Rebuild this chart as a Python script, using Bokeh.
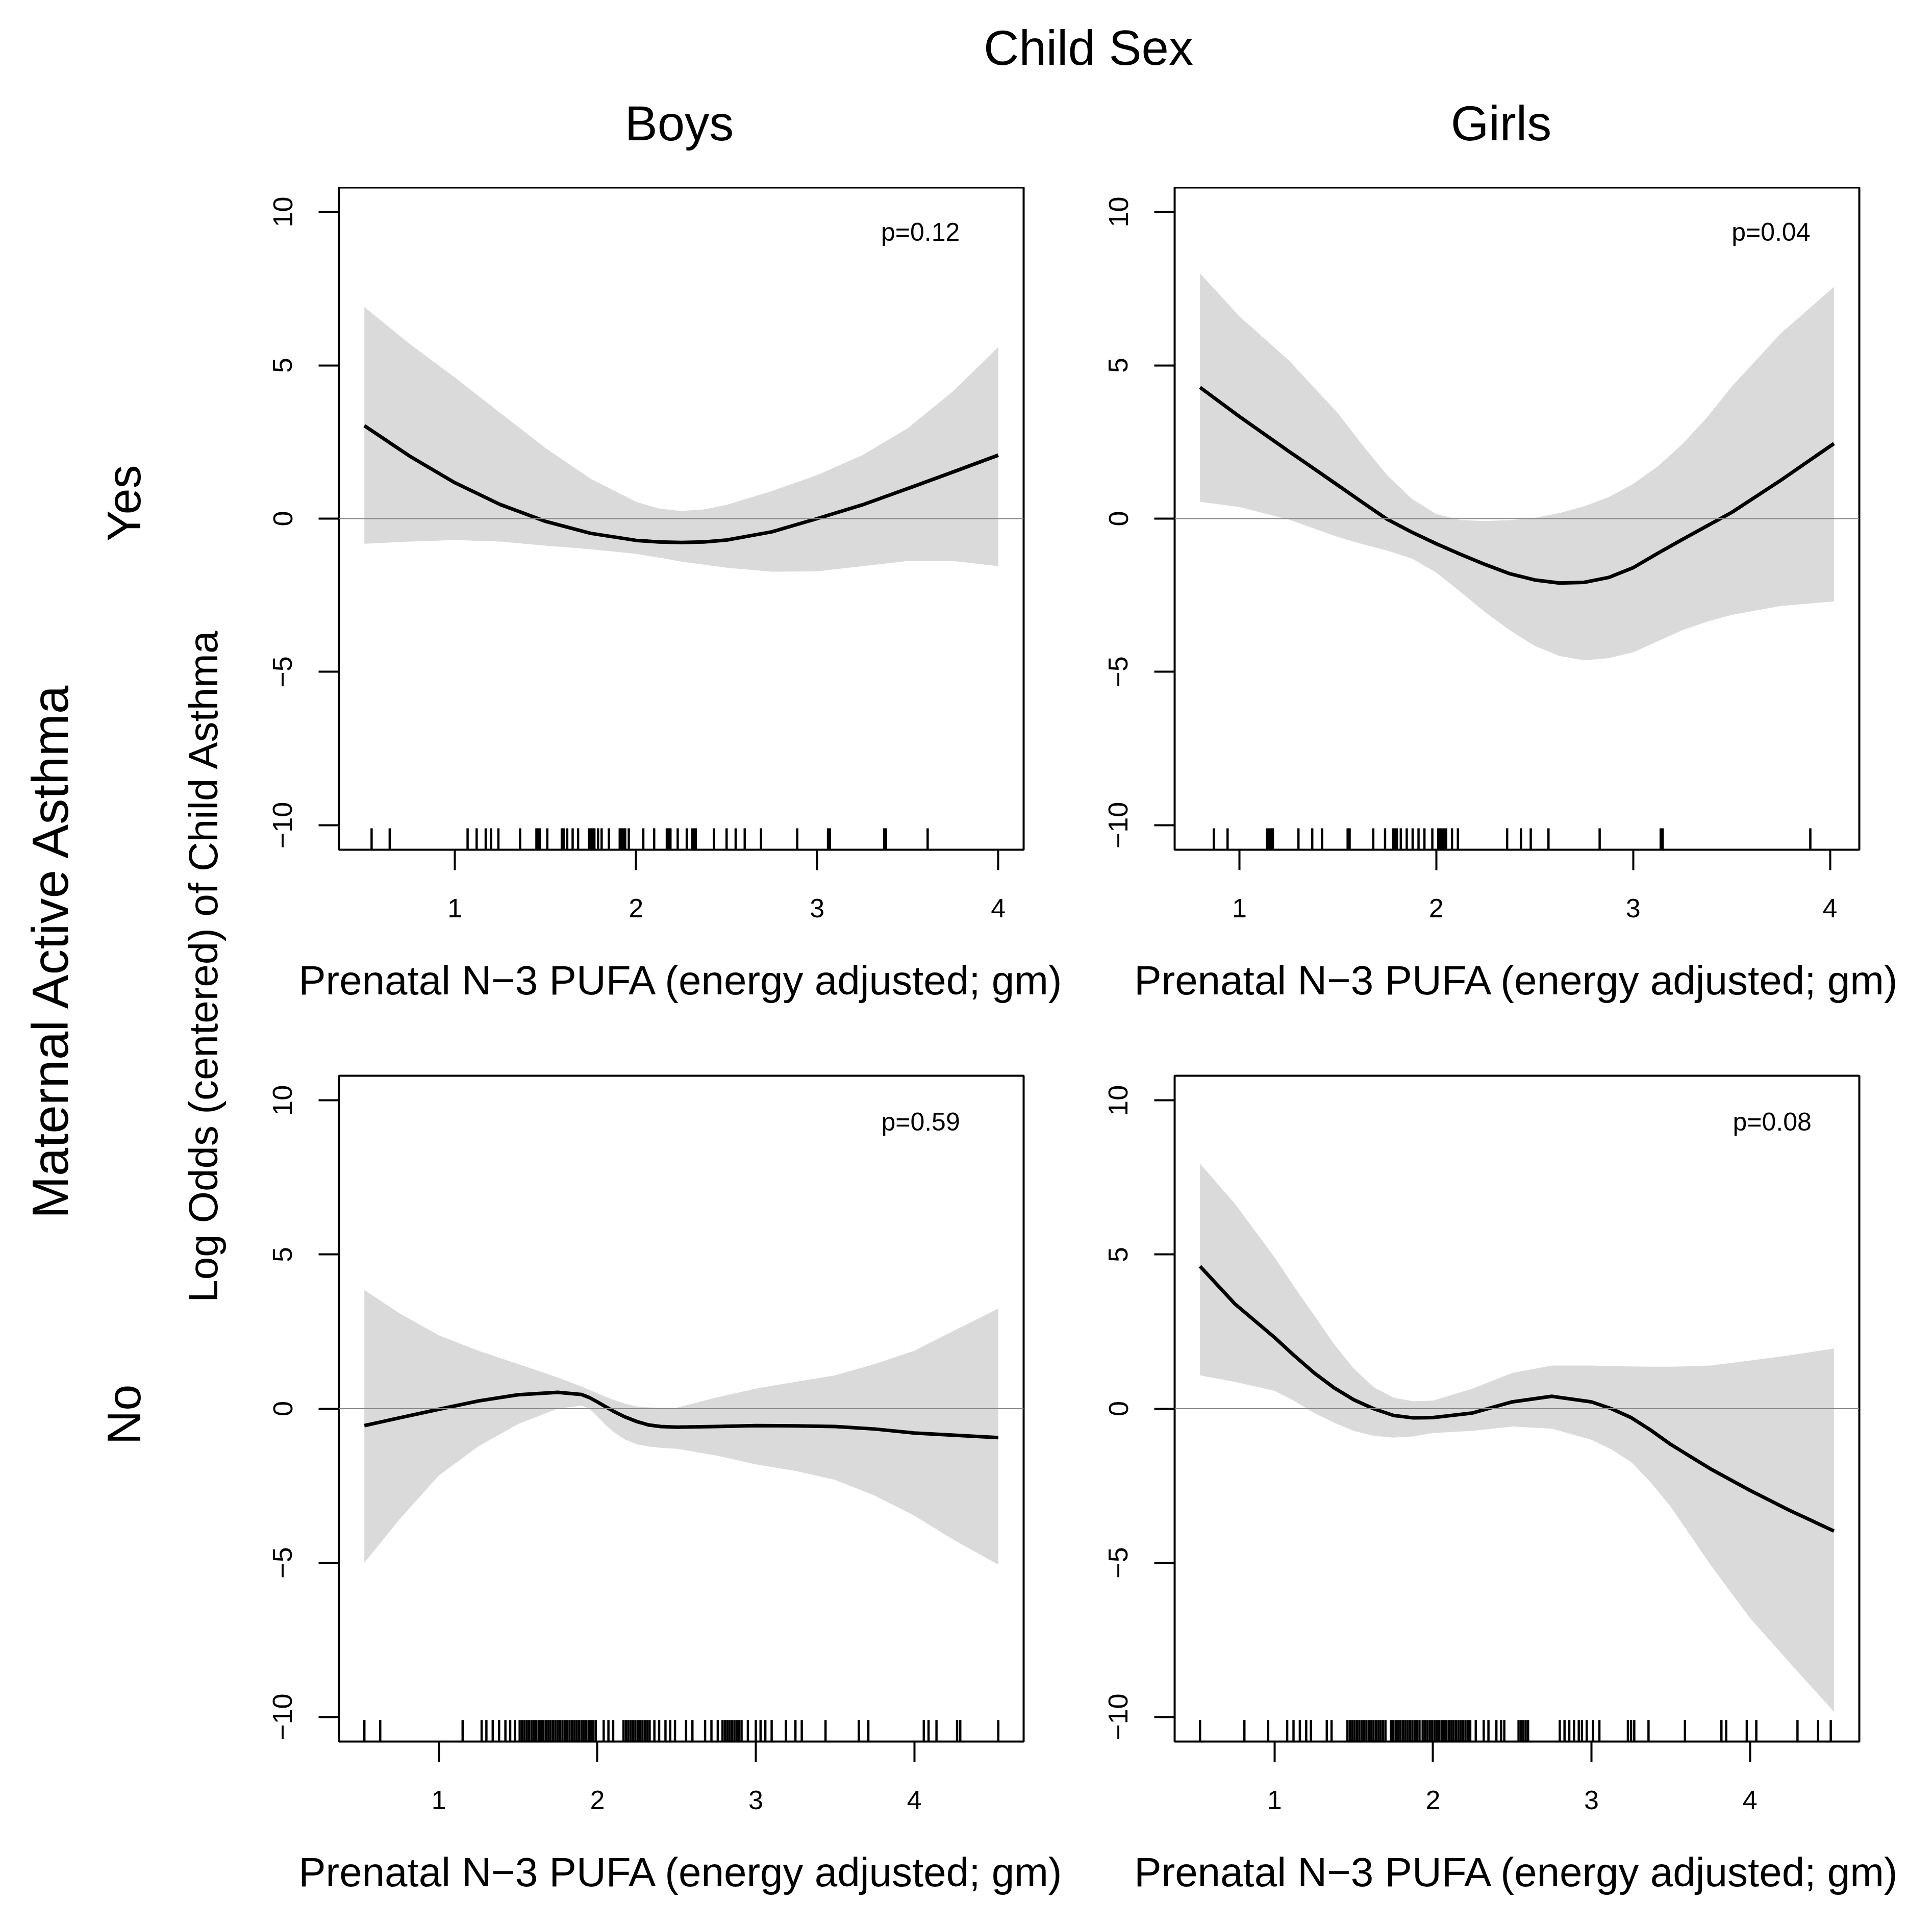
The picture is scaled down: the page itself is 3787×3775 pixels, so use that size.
import math
from bokeh.plotting import figure
from bokeh.layouts import column, row
from bokeh.models import Range1d, FixedTicker, Span
from bokeh.core.properties import value
from bokeh.embed import file_html
from bokeh.resources import INLINE

FONT = "Liberation Sans"

# ---------------- data ----------------
col_labels = ["Boys", "Girls"]
row_labels = ["Yes", "No"]
x_title = "Prenatal N\u22123 PUFA (energy adjusted; gm)"
y_title = "Log Odds (centered) of Child Asthma"
x_ticks = [1, 2, 3, 4]
y_ticks = [-10, -5, 0, 5, 10]
y_tick_labels = ["\u221210", "\u22125", "0", "5", "10"]

# Yes / Boys
tl_x = [0.50, 0.75, 1.00, 1.25, 1.50, 1.75, 2.00, 2.125, 2.25, 2.375, 2.50, 2.75, 3.00, 3.25, 3.50, 3.75, 4.00]
tl_fit = [3.03, 2.04, 1.17, 0.46, -0.09, -0.48, -0.71, -0.76, -0.78, -0.76, -0.70, -0.43, 0.00, 0.45, 0.98, 1.52, 2.07]
tl_hi = [6.90, 5.70, 4.60, 3.45, 2.30, 1.30, 0.55, 0.33, 0.25, 0.30, 0.45, 0.90, 1.42, 2.07, 2.95, 4.15, 5.60]
tl_lo = [-0.82, -0.75, -0.70, -0.75, -0.88, -1.00, -1.15, -1.27, -1.40, -1.50, -1.60, -1.73, -1.72, -1.55, -1.38, -1.38, -1.55]
tl_rug = [0.54, 0.64, 1.07, 1.12, 1.17, 1.20, 1.24, 1.36, 1.45, 1.46, 1.47, 1.51, 1.59, 1.60, 1.62,
          1.65, 1.68, 1.74, 1.75, 1.76, 1.77, 1.79, 1.81, 1.85, 1.91, 1.92, 1.93, 1.94, 1.96, 2.04,
          2.10, 2.17, 2.18, 2.19, 2.23, 2.28, 2.31, 2.32, 2.33, 2.43, 2.50, 2.55, 2.60, 2.69, 2.89,
          3.06, 3.07, 3.37, 3.38, 3.61]
tl_xlim = [0.50, 4.00]
tl_p = "p=0.12"

# Yes / Girls
tr_x = [0.80, 1.00, 1.25, 1.50, 1.625, 1.75, 1.875, 2.00, 2.125, 2.25, 2.375, 2.50, 2.625, 2.75,
        2.875, 3.00, 3.125, 3.25, 3.375, 3.50, 3.75, 4.02]
tr_fit = [4.28, 3.33, 2.20, 1.09, 0.53, -0.02, -0.44, -0.82, -1.17, -1.50, -1.80, -2.00, -2.10, -2.08,
          -1.92, -1.60, -1.13, -0.68, -0.24, 0.20, 1.25, 2.45]
tr_hi = [8.00, 6.60, 5.17, 3.44, 2.40, 1.42, 0.65, 0.15, -0.05, -0.08, -0.05, 0.02, 0.18, 0.40,
         0.70, 1.13, 1.70, 2.43, 3.30, 4.30, 6.04, 7.56]
tr_lo = [0.55, 0.38, -0.03, -0.60, -0.83, -1.04, -1.30, -1.76, -2.40, -3.06, -3.65, -4.15, -4.48, -4.62,
         -4.55, -4.36, -4.00, -3.64, -3.36, -3.14, -2.85, -2.70]
tr_rug = [0.87, 0.94, 1.14, 1.15, 1.16, 1.17, 1.30, 1.37, 1.42, 1.55, 1.56, 1.68, 1.74, 1.78, 1.79,
          1.80, 1.82, 1.85, 1.88, 1.91, 1.94, 1.98, 2.01, 2.02, 2.03, 2.04, 2.05, 2.08, 2.11, 2.36,
          2.43, 2.48, 2.57, 2.83, 3.14, 3.15, 3.90]
tr_xlim = [0.80, 4.02]
tr_p = "p=0.04"

# No / Boys
bl_x = [0.53, 0.75, 1.00, 1.25, 1.50, 1.75, 1.90, 1.95, 2.00, 2.05, 2.10, 2.175, 2.25, 2.325, 2.40,
        2.50, 2.75, 3.00, 3.25, 3.50, 3.75, 4.00, 4.25, 4.53]
bl_fit = [-0.55, -0.30, -0.02, 0.25, 0.45, 0.53, 0.46, 0.36, 0.22, 0.07, -0.08, -0.27, -0.42, -0.53,
          -0.58, -0.60, -0.58, -0.55, -0.56, -0.58, -0.66, -0.79, -0.86, -0.94]
bl_hi = [3.85, 3.10, 2.38, 1.88, 1.45, 1.01, 0.72, 0.61, 0.50, 0.39, 0.29, 0.16, 0.07, 0.04, 0.03,
         0.03, 0.36, 0.65, 0.87, 1.08, 1.45, 1.88, 2.53, 3.25]
bl_lo = [-5.00, -3.60, -2.17, -1.22, -0.50, 0.00, 0.10, 0.00, -0.25, -0.52, -0.75, -1.00, -1.16,
         -1.23, -1.27, -1.30, -1.52, -1.81, -2.02, -2.31, -2.82, -3.47, -4.26, -5.06]
bl_rug = [0.53, 0.63, 1.15, 1.27, 1.30, 1.34, 1.38, 1.42, 1.45, 1.48,
          1.51, 1.525, 1.54, 1.555, 1.57, 1.585, 1.60, 1.615, 1.63, 1.645, 1.66, 1.675, 1.69,
          1.705, 1.72, 1.735, 1.75, 1.765, 1.78, 1.795, 1.81, 1.825, 1.84, 1.855, 1.87, 1.885,
          1.90, 1.915, 1.93, 1.945, 1.96, 1.975, 1.99, 2.04, 2.07, 2.10,
          2.165, 2.18, 2.195, 2.21, 2.225, 2.24, 2.255, 2.27, 2.285, 2.30, 2.315, 2.33,
          2.36, 2.39, 2.43, 2.46, 2.49, 2.56, 2.60, 2.68, 2.72, 2.76,
          2.79, 2.805, 2.82, 2.835, 2.85, 2.865, 2.88, 2.895, 2.91,
          2.95, 3.00, 3.03, 3.06, 3.10, 3.19, 3.25, 3.29, 3.44, 3.65, 3.71, 4.06, 4.09, 4.14,
          4.27, 4.29, 4.53]
bl_xlim = [0.53, 4.53]
bl_p = "p=0.59"

# No / Girls
br_x = [0.53, 0.75, 1.00, 1.125, 1.25, 1.375, 1.50, 1.625, 1.75, 1.875, 2.00, 2.25, 2.50, 2.75,
        3.00, 3.125, 3.25, 3.375, 3.50, 3.75, 4.00, 4.25, 4.53]
br_fit = [4.62, 3.40, 2.31, 1.72, 1.16, 0.68, 0.29, 0.00, -0.22, -0.30, -0.29, -0.14, 0.22, 0.40,
          0.22, 0.00, -0.29, -0.70, -1.16, -1.95, -2.65, -3.30, -3.97]
br_hi = [7.95, 6.65, 4.91, 3.95, 3.03, 2.10, 1.30, 0.70, 0.36, 0.24, 0.26, 0.65, 1.16, 1.40, 1.40,
         1.38, 1.37, 1.36, 1.36, 1.40, 1.56, 1.73, 1.95]
br_lo = [1.08, 0.87, 0.58, 0.25, -0.14, -0.45, -0.72, -0.88, -0.94, -0.90, -0.79, -0.72, -0.58,
         -0.65, -1.01, -1.32, -1.73, -2.40, -3.18, -5.06, -6.79, -8.24, -9.83]
br_rug = [0.53, 0.81, 0.96, 1.08, 1.12, 1.16, 1.20, 1.23, 1.33, 1.36,
          1.46, 1.475, 1.49, 1.505, 1.52, 1.535, 1.55, 1.565, 1.58, 1.595, 1.61, 1.625, 1.64,
          1.655, 1.67, 1.685, 1.70,
          1.735, 1.75, 1.765, 1.78, 1.795, 1.81, 1.825, 1.84, 1.855, 1.87, 1.885, 1.90, 1.915,
          1.935, 1.95, 1.965, 1.98, 1.995, 2.01, 2.025, 2.04, 2.055, 2.07, 2.085, 2.10, 2.115,
          2.13, 2.145, 2.16, 2.175, 2.19, 2.205, 2.22, 2.235,
          2.27, 2.32, 2.35, 2.40, 2.43, 2.45, 2.54, 2.555, 2.57, 2.585, 2.60,
          2.80, 2.83, 2.86, 2.89, 2.92, 2.94, 2.97, 3.01, 3.05, 3.23, 3.25, 3.27, 3.36, 3.59,
          3.82, 3.85, 3.98, 4.04, 4.30, 4.43, 4.51]
br_xlim = [0.53, 4.53]
br_p = "p=0.08"

# ---------------- layout constants ----------------
Y_LO, Y_HI = -10.8, 10.8
RUG_LEN = 0.7
FRAME_W = 1342
LEFT_B = 200
RIGHT_B = 96
HEADER_H = 367
STRIP_W = 464


def panel(xs, fit, lo, hi, rug, xlim, ptext, pxy, frame_h, top_b, bottom_b):
    d = xlim[1] - xlim[0]
    p = figure(frame_width=FRAME_W, frame_height=frame_h,
               x_range=Range1d(xlim[0] - 0.04 * d, xlim[1] + 0.04 * d),
               y_range=Range1d(Y_LO, Y_HI),
               output_backend="svg", toolbar_location=None,
               min_border_left=LEFT_B, min_border_right=RIGHT_B,
               min_border_top=top_b, min_border_bottom=bottom_b,
               background_fill_color="white", border_fill_color="white")
    p.outline_line_color = "black"
    p.outline_line_width = 4
    p.outline_line_alpha = 1.0
    p.grid.visible = False

    p.varea(x=xs, y1=lo, y2=hi, fill_color="#dadada", fill_alpha=1.0)
    p.add_layout(Span(location=0, dimension="width", line_color="#8a8a8a", line_width=2))
    p.line(xs, fit, line_color="black", line_width=7, line_join="round")
    p.segment(x0=rug, y0=[Y_LO] * len(rug), x1=rug, y1=[Y_LO + RUG_LEN] * len(rug),
              line_color="black", line_width=4.5)
    p.text(x=[pxy[0]], y=[pxy[1]], text=[ptext], text_font=value(FONT),
           text_font_size="50px", text_align="center", text_baseline="middle",
           text_color="black")

    xa = p.xaxis[0]
    xa.ticker = FixedTicker(ticks=x_ticks)
    xa.axis_line_color = None
    xa.major_tick_out = 40
    xa.major_tick_in = 0
    xa.major_tick_line_width = 4
    xa.major_tick_line_color = "black"
    xa.minor_tick_line_color = None
    xa.major_label_text_font = FONT
    xa.major_label_text_font_size = "52px"
    xa.major_label_text_color = "black"
    xa.major_label_standoff = 56
    xa.axis_label = x_title
    xa.axis_label_text_font = FONT
    xa.axis_label_text_font_size = "80px"
    xa.axis_label_text_font_style = "normal"
    xa.axis_label_text_color = "black"
    xa.axis_label_standoff = 76

    ya = p.yaxis[0]
    ya.ticker = FixedTicker(ticks=y_ticks)
    ya.major_label_overrides = {t: s for t, s in zip(y_ticks, y_tick_labels)}
    ya.axis_line_color = None
    ya.major_tick_out = 40
    ya.major_tick_in = 0
    ya.major_tick_line_width = 4
    ya.major_tick_line_color = "black"
    ya.minor_tick_line_color = None
    ya.major_label_text_font = FONT
    ya.major_label_text_font_size = "54px"
    ya.major_label_text_color = "black"
    ya.major_label_orientation = "parallel"
    ya.major_label_standoff = 52
    return p


tl = panel(tl_x, tl_fit, tl_lo, tl_hi, tl_rug, tl_xlim, tl_p, (3.57, 9.35), 1298, 0, 380)
tr = panel(tr_x, tr_fit, tr_lo, tr_hi, tr_rug, tr_xlim, tr_p, (3.70, 9.35), 1298, 0, 380)
bl = panel(bl_x, bl_fit, bl_lo, bl_hi, bl_rug, bl_xlim, bl_p, (4.04, 9.31), 1305, 63, 340)
br = panel(br_x, br_fit, br_lo, br_hi, br_rug, br_xlim, br_p, (4.14, 9.31), 1305, 63, 340)

TOTAL_W = STRIP_W + 2 * (LEFT_B + FRAME_W + RIGHT_B)
STRIP_H = (0 + 1298 + 380) + (63 + 1305 + 340)


def blank(w, h):
    f = figure(width=w, height=h, x_range=Range1d(0, w), y_range=Range1d(0, h),
               x_axis_type=None, y_axis_type=None, output_backend="svg",
               toolbar_location=None, min_border=0,
               background_fill_color="white", border_fill_color="white")
    f.outline_line_color = None
    f.grid.visible = False
    return f


header = blank(TOTAL_W, HEADER_H)
header.text(x=[2133], y=[HEADER_H - 93], text=["Child Sex"], text_font=value(FONT),
            text_font_size="96px", text_align="center", text_baseline="middle", text_color="black")
header.text(x=[1331, 2942], y=[HEADER_H - 241, HEADER_H - 241], text=col_labels,
            text_font=value(FONT), text_font_size="96px", text_align="center",
            text_baseline="middle", text_color="black")

strip = blank(STRIP_W, STRIP_H)
strip.text(x=[97], y=[STRIP_H - 1493], text=["Maternal Active Asthma"], text_font=value(FONT),
           text_font_size="100px", text_align="center", text_baseline="middle",
           angle=math.pi / 2, text_color="black")
strip.text(x=[242, 242], y=[STRIP_H - 619, STRIP_H - 2405], text=row_labels, text_font=value(FONT),
           text_font_size="92px", text_align="center", text_baseline="middle",
           angle=math.pi / 2, text_color="black")
strip.text(x=[398], y=[STRIP_H - 1525], text=[y_title], text_font=value(FONT),
           text_font_size="80px", text_align="center", text_baseline="middle",
           angle=math.pi / 2, text_color="black")

layout = column(header, row(strip, column(row(tl, tr), row(bl, br))))

open("out.html", "w").write(file_html(layout, INLINE))
